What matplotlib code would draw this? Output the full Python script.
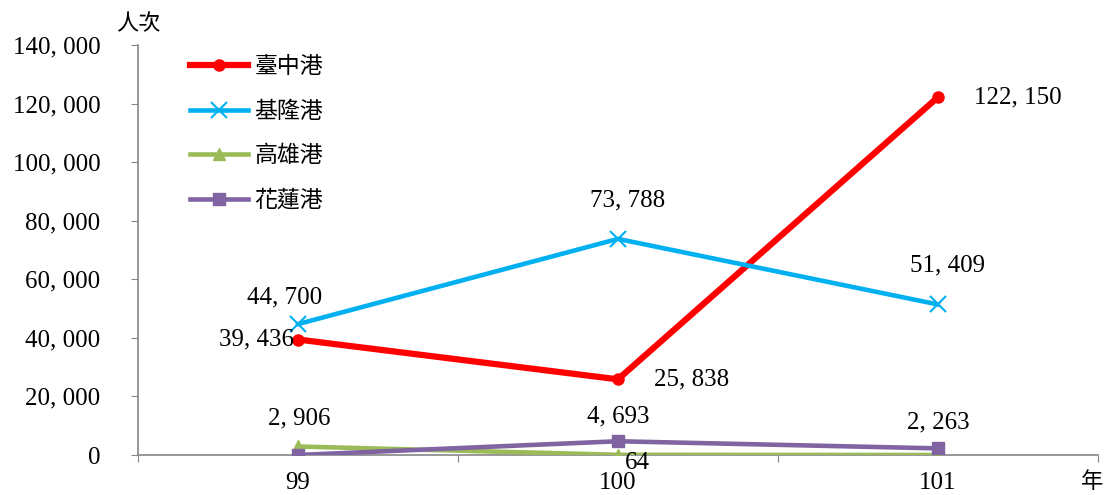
import matplotlib
matplotlib.use("Agg")
import matplotlib.pyplot as plt

plt.rcParams['font.family'] = ['Liberation Serif', 'Noto Sans CJK TC']

years = ['99', '100', '101']
series_names = ['臺中港', '基隆港', '高雄港', '花蓮港']
taichung = [39436, 25838, 122150]
keelung = [44700, 73788, 51409]
kaohsiung = [2906, 64, 0]
hualien = [0, 4693, 2263]
y_ticks = [0, 20000, 40000, 60000, 80000, 100000, 120000, 140000]


def fmt(v):
    return '{:,}'.format(v).replace(',', ', ')


fig = plt.figure(figsize=(11.07, 4.95), dpi=100)
ax = fig.add_axes([0.1247, 0.0808, 0.867, 0.8283])

x = [1, 2, 3]
ax.plot(x, taichung, color='#FF0000', lw=4.5, marker='o', ms=8, label=series_names[0], zorder=3)
ax.plot(x, keelung, color='#00B0F0', lw=3.3, marker='x', ms=12, mew=1.5, label=series_names[1], zorder=3)
ax.plot(x, kaohsiung, color='#9BBB59', lw=3.3, marker='^', ms=9, label=series_names[2], zorder=3)
ax.plot(x, hualien, color='#8064A2', lw=3.3, marker='s', ms=8, label=series_names[3], zorder=4)

fs = 18
# data labels
ax.annotate(fmt(taichung[0]), (1, taichung[0]), xytext=(-3, 0), textcoords='offset points', ha='right', va='center', fontsize=fs)
ax.annotate(fmt(taichung[1]), (2, taichung[1]), xytext=(26, 0), textcoords='offset points', ha='left', va='center', fontsize=fs)
ax.annotate(fmt(taichung[2]), (3, taichung[2]), xytext=(26, 0), textcoords='offset points', ha='left', va='center', fontsize=fs)
ax.annotate(fmt(keelung[0]), (1, keelung[0]), xytext=(-10, 19), textcoords='offset points', ha='center', va='center', fontsize=fs)
ax.annotate(fmt(keelung[1]), (2, keelung[1]), xytext=(7, 28), textcoords='offset points', ha='center', va='center', fontsize=fs)
ax.annotate(fmt(keelung[2]), (3, keelung[2]), xytext=(7, 28), textcoords='offset points', ha='center', va='center', fontsize=fs)
ax.annotate(fmt(kaohsiung[0]), (1, kaohsiung[0]), xytext=(1, 20), textcoords='offset points', ha='center', va='center', fontsize=fs)
ax.annotate(fmt(kaohsiung[1]), (2, kaohsiung[1]), xytext=(14, -6), textcoords='offset points', ha='center', va='center', fontsize=fs)
ax.annotate(fmt(hualien[1]), (2, hualien[1]), xytext=(0, 18), textcoords='offset points', ha='center', va='center', fontsize=fs)
ax.annotate(fmt(hualien[2]), (3, hualien[2]), xytext=(0, 19), textcoords='offset points', ha='center', va='center', fontsize=fs)

ax.set_xlim(0.5, 3.5)
ax.set_ylim(0, 140000)
ax.set_yticks(y_ticks)
ax.set_yticklabels([fmt(v) for v in y_ticks], fontsize=fs)
ax.set_xticks([0.5, 1.5, 2.5, 3.5])
ax.set_xticklabels([])
ax.set_xticks(x, minor=True)
ax.set_xticklabels(years, minor=True, fontsize=fs)
ax.tick_params(axis='x', which='minor', length=0, pad=12)
ax.tick_params(axis='x', which='major', length=5, color='#868686', direction='out')
ax.tick_params(axis='y', length=5, color='#868686', direction='out', pad=22)

for s in ['top', 'right']:
    ax.spines[s].set_visible(False)
for s in ['left', 'bottom']:
    ax.spines[s].set_color('#868686')
    ax.spines[s].set_linewidth(1.2)

ax.text(0.0, 1.05, '人次', transform=ax.transAxes, fontsize=16, ha='center', va='center')
ax.text(0.994, -0.067, '年', transform=ax.transAxes, fontsize=16, ha='center', va='center')

leg = ax.legend(loc='upper left', bbox_to_anchor=(0.033, 1.02), frameon=False, fontsize=16.5,
                handlelength=2.5, labelspacing=1.0, handletextpad=0.3)

fig.savefig('out.png', dpi=100)
